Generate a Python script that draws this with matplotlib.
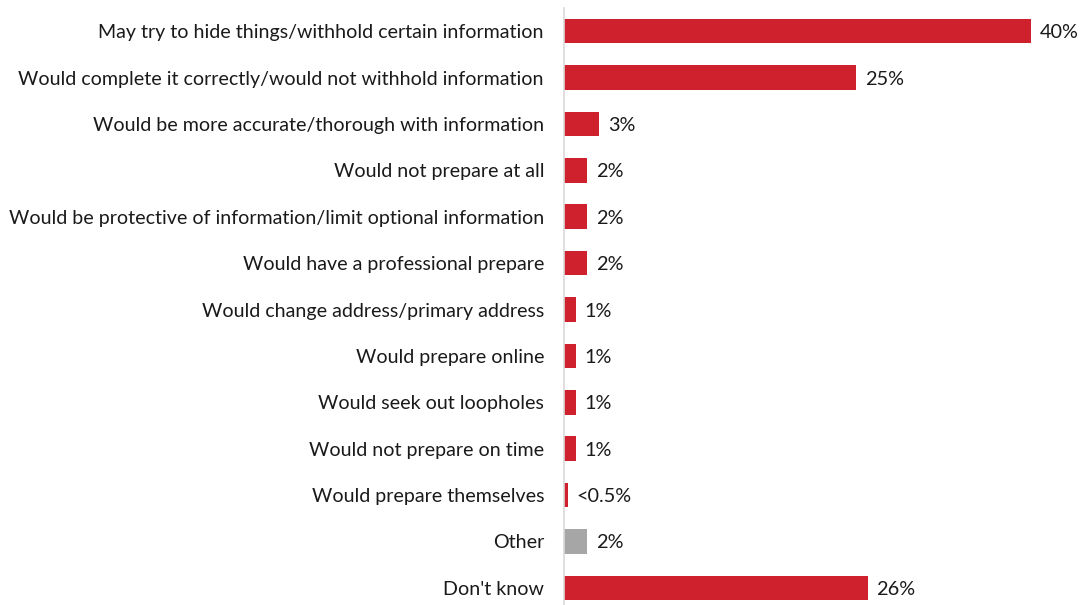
import matplotlib
matplotlib.use("Agg")
import matplotlib.pyplot as plt

# survey responses, top to bottom
labels = [
    "May try to hide things/withhold certain information",
    "Would complete it correctly/would not withhold information",
    "Would be more accurate/thorough with information",
    "Would not prepare at all",
    "Would be protective of information/limit optional information",
    "Would have a professional prepare",
    "Would change address/primary address",
    "Would prepare online",
    "Would seek out loopholes",
    "Would not prepare on time",
    "Would prepare themselves",
    "Other",
    "Don't know",
]
values = [40, 25, 3, 2, 2, 2, 1, 1, 1, 1, 0.3, 2, 26]
value_text = ["40%", "25%", "3%", "2%", "2%", "2%", "1%", "1%", "1%", "1%",
              "<0.5%", "2%", "26%"]

RED = "#CF202E"
GREY = "#A6A6A6"
colors = [GREY if l == "Other" else RED for l in labels]

plt.rcParams["font.family"] = ["Lato", "DejaVu Sans"]

fig = plt.figure(figsize=(10.83, 6.05), dpi=100)
ax = fig.add_axes([564 / 1083, 0, 1 - 564 / 1083, 597 / 605])

ypos = list(range(len(labels)))
ax.barh(ypos, values, height=0.53, color=colors)

for y, v, t in zip(ypos, values, value_text):
    ax.text(v + 0.75, y, t, va="center_baseline", ha="left", fontsize=14.3,
            color="#1a1a1a")

ax.set_yticks(ypos)
ax.set_yticklabels(labels, fontsize=14.1, color="#1a1a1a")
ax.tick_params(axis="y", length=0, pad=14.4)
ax.set_xticks([])
ax.set_xlim(0, (1083 - 564) / 11.675)
ax.set_ylim(12.37, -0.5)

for side in ["top", "right", "bottom"]:
    ax.spines[side].set_visible(False)
ax.spines["left"].set_color("#D9D9D9")
ax.spines["left"].set_linewidth(1.2)

fig.savefig("out.png", dpi=100)
